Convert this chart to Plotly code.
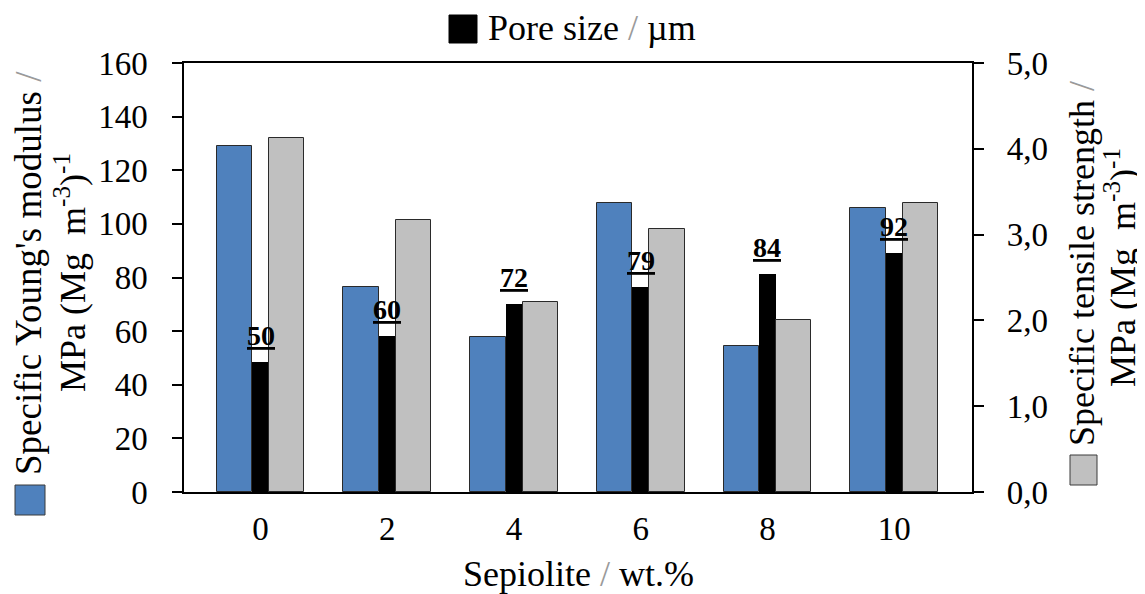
import plotly.graph_objects as go

# ---- data ----
sepiolite_labels = ["0", "2", "4", "6", "8", "10"]
young_modulus = [129, 76.5, 57.8, 107.8, 54.5, 106]          # left axis
tensile_strength = [4.13, 3.17, 2.22, 3.06, 2.01, 3.37]      # right axis
pore_size_bar = [48.5, 58.3, 70, 76.5, 81.2, 89.2]           # left axis (bar heights)
pore_size_labels = ["50", "60", "72", "79", "84", "92"]
left_ticks = [0, 20, 40, 60, 80, 100, 120, 140, 160]
right_tickvals = [0, 1, 2, 3, 4, 5]
right_ticktext = ["0,0", "1,0", "2,0", "3,0", "4,0", "5,0"]

x = list(range(len(sepiolite_labels)))

FONT = "Liberation Serif"
OFF = 8                      # page body margin
SCR_W, SCR_H = 1145, 594
W, H = SCR_W - OFF, SCR_H - OFF
PLOT_X0, PLOT_X1, PLOT_Y0, PLOT_Y1 = 184, 972, 63, 492   # screen pixels
L = PLOT_X0 - OFF
T = PLOT_Y0 - OFF
R = W - (PLOT_X1 - OFF)
B = H - (PLOT_Y1 - OFF)
PW, PH = PLOT_X1 - PLOT_X0, PLOT_Y1 - PLOT_Y0


def px(xs):
    return (xs - PLOT_X0) / PW


def py(ys):
    return (PLOT_Y1 - ys) / PH


fig = go.Figure()
fig.add_trace(go.Bar(x=x, y=young_modulus, offset=-0.346, width=0.28,
                     marker=dict(color="#4F81BD", line=dict(color="#2a2a2a", width=1)),
                     yaxis="y", showlegend=False))
fig.add_trace(go.Bar(x=x, y=pore_size_bar, offset=-0.066, width=0.134,
                     marker=dict(color="#000000", line=dict(color="#000000", width=0)),
                     yaxis="y", showlegend=False))
fig.add_trace(go.Bar(x=x, y=tensile_strength, offset=0.068, width=0.278,
                     marker=dict(color="#C0C0C0", line=dict(color="#2a2a2a", width=1)),
                     yaxis="y2", showlegend=False))

annotations = []
for xi, yv, lab in zip(x, pore_size_bar, pore_size_labels):
    annotations.append(dict(x=xi, y=yv, xref="x", yref="y", text=f"<b><u>{lab}</u></b>",
                            showarrow=False, yanchor="bottom", xanchor="center", yshift=9,
                            font=dict(family=FONT, size=28, color="black")))

slash = "<span style='color:#9a9a9a'>/</span>"
TITLE = 36
annotations += [
    dict(x=px(486), y=py(28), xref="paper", yref="paper", xanchor="left", yanchor="middle",
         text=f"Pore size {slash} µm", showarrow=False,
         font=dict(family=FONT, size=TITLE, color="black")),
    dict(x=px(28), y=py(273), xref="paper", yref="paper", xanchor="center", yanchor="middle",
         textangle=-90, showarrow=False, text=f"Specific Young's modulus {slash}",
         font=dict(family=FONT, size=37, color="black")),
    dict(x=px(70), y=py(273), xref="paper", yref="paper", xanchor="center", yanchor="middle",
         textangle=-90, showarrow=False, text="MPa (Mg\u00a0 m<sup>-3</sup>)<sup>-1</sup>",
         font=dict(family=FONT, size=TITLE, color="black")),
    dict(x=px(1082), y=py(264), xref="paper", yref="paper", xanchor="center", yanchor="middle",
         textangle=-90, showarrow=False, text=f"Specific tensile strength {slash}",
         font=dict(family=FONT, size=TITLE, color="black")),
    dict(x=px(1120), y=py(268), xref="paper", yref="paper", xanchor="center", yanchor="middle",
         textangle=-90, showarrow=False, text="MPa (Mg\u00a0 m<sup>-3</sup>)<sup>-1</sup>",
         font=dict(family=FONT, size=TITLE, color="black")),
    dict(x=px(578), y=py(574), xref="paper", yref="paper", xanchor="center", yanchor="middle",
         text=f"Sepiolite {slash} wt.%", showarrow=False,
         font=dict(family=FONT, size=TITLE, color="black")),
]

shapes = [
    dict(type="rect", xref="paper", yref="paper", x0=px(15), x1=px(45), y0=py(515), y1=py(485),
         fillcolor="#4F81BD", line=dict(color="#3a3a3a", width=1)),
    dict(type="rect", xref="paper", yref="paper", x0=px(1070), x1=px(1097), y0=py(485), y1=py(455),
         fillcolor="#C0C0C0", line=dict(color="#3a3a3a", width=1)),
    dict(type="rect", xref="paper", yref="paper", x0=px(449), x1=px(477), y0=py(43), y1=py(15),
         fillcolor="#000000", line=dict(color="#000000", width=1)),
]

axis_font = dict(family=FONT, size=33, color="black")
fig.update_layout(
    width=W, height=H, autosize=False,
    margin=dict(l=L, r=R, t=T, b=B, pad=0),
    paper_bgcolor="white", plot_bgcolor="white",
    barmode="overlay", bargap=0,
    font=dict(family=FONT, color="black"),
    xaxis=dict(range=[-0.604, 5.614], tickvals=x, ticktext=sepiolite_labels, ticks="",
               showline=True, linecolor="black", linewidth=1.5, mirror=True,
               showgrid=False, zeroline=False, tickfont=axis_font, ticklabelstandoff=7),
    xaxis2=dict(overlaying="x", anchor="y", range=[0, 6], tickvals=list(range(7)),
                ticks="outside", ticklen=9, tickwidth=1.5, tickcolor="black",
                showticklabels=False, showline=False, showgrid=False, zeroline=False),
    yaxis=dict(range=[0, 160], tickvals=left_ticks, ticks="outside", ticklen=10, tickwidth=1.5,
               tickcolor="black", showline=True, linecolor="black", linewidth=1.5,
               showgrid=False, zeroline=False, tickfont=axis_font, ticklabelstandoff=18),
    yaxis2=dict(range=[0, 5], tickvals=right_tickvals,
                ticktext=["\u00a0\u00a0" + t for t in right_ticktext], overlaying="y",
                side="right", anchor="x", ticks="outside", ticklen=10, tickwidth=1.5,
                tickcolor="black", showline=True, linecolor="black", linewidth=1.5,
                showgrid=False, zeroline=False, tickfont=axis_font),
    annotations=annotations, shapes=shapes,
)

fig.write_html("out.html")
